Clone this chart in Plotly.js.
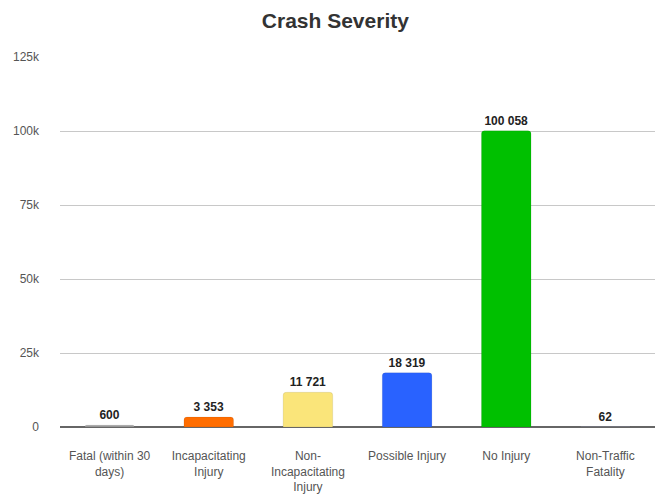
<!DOCTYPE html>
<html><head><meta charset="utf-8">
<script src="https://cdn.plot.ly/plotly-3.0.1.min.js"></script>
<style>html,body{margin:0;padding:0;background:#fff}#chart{width:655px;height:500px}</style>
</head><body><div id="chart"></div>
<script>
const categories = ["Fatal (within 30<br>days)", "Incapacitating<br>Injury", "Non-<br>Incapacitating<br>Injury", "Possible Injury", "No Injury", "Non-Traffic<br>Fatality"];
const values = [600, 3353, 11721, 18319, 100058, 62];
const barColors = ["#9e9e9e", "#ff6d00", "#fae57a", "#2962ff", "#00c000", "#c5cae9"];
const yTickVals = [0, 25000, 50000, 75000, 100000, 125000];
const yTickText = ["0", "25k", "50k", "75k", "100k", "125k"];

const trace = {
  type: 'bar',
  x: categories,
  y: values,
  width: 0.5,
  marker: {color: barColors, cornerradius: 3, line: {color: 'rgba(0,0,0,0.08)', width: 1}},
  texttemplate: '%{y:,}',
  textposition: 'outside',
  cliponaxis: false,
  textfont: {family: 'Liberation Sans, Arial, sans-serif', size: 12, color: '#222', weight: 'bold', shadow: '1px 1px 1px #fff, -1px -1px 1px #fff, 1px -1px 1px #fff, -1px 1px 1px #fff'},
  hoverinfo: 'none'
};

const layout = {
  width: 655, height: 500,
  margin: {l: 60, r: 0, t: 57, b: 73},
  separators: '. ',
  paper_bgcolor: '#fff', plot_bgcolor: '#fff',
  title: {text: 'Crash Severity', x: 0.512, xanchor: 'center', y: 0.958, yanchor: 'middle',
    font: {family: 'Liberation Sans, Arial, sans-serif', size: 21, color: '#333', weight: 'bold'}},
  font: {family: 'Liberation Sans, Arial, sans-serif', size: 12, color: '#555'},
  showlegend: false,
  bargap: 0.5,
  xaxis: {
    tickfont: {size: 12, color: '#555'},
    ticks: '', ticklabelstandoff: 20,
    showline: false, showgrid: false, zeroline: false,
    fixedrange: true
  },
  yaxis: {
    range: [0, 125000],
    tickvals: yTickVals, ticktext: yTickText,
    tickfont: {size: 12, color: '#555'},
    ticks: '', ticklabelstandoff: 20,
    showgrid: true, gridcolor: '#c8c8c8', gridwidth: 1,
    zeroline: true, zerolinecolor: '#666', zerolinewidth: 2,
    showline: false, fixedrange: true
  }
};

Plotly.newPlot('chart', [trace], layout, {displayModeBar: false, staticPlot: true});
</script>
</body></html>
